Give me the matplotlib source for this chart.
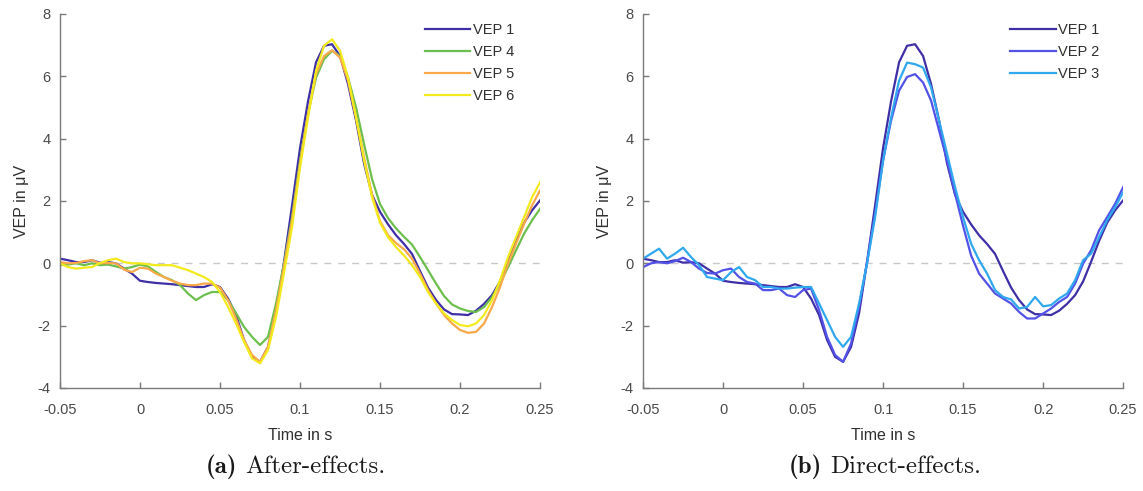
import matplotlib
matplotlib.use("Agg")
import matplotlib.pyplot as plt

plt.rcParams['font.family'] = ['Liberation Sans', 'DejaVu Sans']

# sample times in milliseconds (5 ms grid)
times_ms = [-50, -45, -40, -35, -30, -25, -20, -15, -10, -5,
            0, 5, 10, 15, 20, 25, 30, 35, 40, 45,
            50, 55, 60, 65, 70, 75, 80, 85, 90, 95,
            100, 105, 110, 115, 120, 125, 130, 135, 140, 145,
            150, 155, 160, 165, 170, 175, 180, 185, 190, 195,
            200, 205, 210, 215, 220, 225, 230, 235, 240, 245, 250]

vep1 = [0.15, 0.10, 0.04, 0.04, 0.10, 0.02, 0.04, 0.00, -0.17, -0.33,
        -0.56, -0.60, -0.63, -0.65, -0.67, -0.70, -0.73, -0.76, -0.76, -0.67,
        -0.76, -1.13, -1.66, -2.46, -3.00, -3.16, -2.68, -1.60, 0.05, 1.85,
        3.70, 5.20, 6.45, 6.98, 7.03, 6.65, 5.75, 4.58, 3.20, 2.20,
        1.65, 1.25, 0.90, 0.62, 0.30, -0.25, -0.78, -1.18, -1.48, -1.63,
        -1.64, -1.66, -1.52, -1.30, -1.02, -0.58, 0.05, 0.72, 1.30, 1.70, 2.02]

vep4 = [-0.06, -0.04, 0.00, -0.06, 0.00, -0.06, -0.04, -0.10, -0.17, -0.12,
        -0.04, -0.10, -0.28, -0.44, -0.54, -0.70, -0.97, -1.18, -1.02, -0.92,
        -0.92, -1.18, -1.60, -2.04, -2.36, -2.62, -2.36, -1.29, 0.00, 1.48,
        3.30, 4.80, 5.96, 6.55, 6.82, 6.65, 5.96, 5.00, 3.83, 2.70,
        1.90, 1.45, 1.12, 0.85, 0.60, 0.20, -0.22, -0.65, -1.05, -1.32,
        -1.45, -1.53, -1.56, -1.40, -1.08, -0.65, -0.12, 0.42, 0.95, 1.38, 1.75]

vep5 = [0.04, 0.00, 0.01, 0.07, 0.10, 0.00, 0.01, 0.00, -0.20, -0.28,
        -0.14, -0.17, -0.33, -0.44, -0.56, -0.65, -0.70, -0.70, -0.65, -0.65,
        -0.78, -1.18, -1.77, -2.46, -2.94, -3.16, -2.68, -1.50, -0.10, 1.38,
        3.19, 4.79, 6.07, 6.65, 6.84, 6.60, 5.86, 4.68, 3.40, 2.20,
        1.35, 0.90, 0.65, 0.45, 0.15, -0.33, -0.86, -1.29, -1.66, -1.93,
        -2.14, -2.23, -2.20, -1.93, -1.40, -0.76, -0.01, 0.63, 1.27, 1.86, 2.34]

vep6 = [0.00, -0.12, -0.17, -0.14, -0.12, 0.01, 0.10, 0.15, 0.04, 0.00,
        0.00, -0.03, -0.06, -0.06, -0.06, -0.14, -0.22, -0.33, -0.44, -0.60,
        -0.92, -1.40, -1.93, -2.52, -3.05, -3.21, -2.78, -1.72, -0.30, 1.16,
        3.08, 4.68, 6.18, 6.98, 7.19, 6.82, 5.96, 4.68, 3.30, 2.12,
        1.30, 0.84, 0.52, 0.25, -0.06, -0.44, -0.92, -1.29, -1.61, -1.82,
        -1.98, -2.02, -1.93, -1.66, -1.18, -0.54, 0.20, 0.84, 1.48, 2.12, 2.60]

vep2 = [-0.12, 0.00, 0.04, 0.00, 0.07, 0.18, 0.04, -0.17, -0.31, -0.33,
        -0.22, -0.17, -0.44, -0.60, -0.65, -0.86, -0.86, -0.81, -1.02, -1.08,
        -0.86, -0.81, -1.50, -2.36, -2.94, -3.16, -2.57, -1.40, 0.05, 1.60,
        3.30, 4.58, 5.54, 5.98, 6.07, 5.80, 5.22, 4.26, 3.30, 2.23,
        1.20, 0.25, -0.33, -0.65, -0.97, -1.13, -1.29, -1.56, -1.77, -1.77,
        -1.61, -1.45, -1.24, -1.08, -0.65, -0.01, 0.42, 1.06, 1.48, 1.91, 2.44]

vep3 = [0.15, 0.31, 0.47, 0.15, 0.31, 0.50, 0.20, -0.06, -0.44, -0.49,
        -0.54, -0.28, -0.12, -0.44, -0.54, -0.76, -0.76, -0.81, -0.81, -0.78,
        -0.76, -0.76, -1.29, -1.82, -2.36, -2.68, -2.36, -1.29, 0.00, 1.48,
        3.30, 4.68, 5.86, 6.44, 6.39, 6.28, 5.64, 4.58, 3.51, 2.44,
        1.48, 0.63, 0.10, -0.33, -0.86, -1.08, -1.16, -1.45, -1.40, -1.08,
        -1.38, -1.34, -1.13, -0.97, -0.54, 0.10, 0.31, 0.84, 1.38, 1.80, 2.28]

x_ticks = [-0.05, 0, 0.05, 0.1, 0.15, 0.2, 0.25]
x_tick_labels = ['-0.05', '0', '0.05', '0.1', '0.15', '0.2', '0.25']
y_ticks = [-4, -2, 0, 2, 4, 6, 8]
y_tick_labels = ['-4', '-2', '0', '2', '4', '6', '8']

after_series = [("VEP 1", vep1, '#3f2fa6'),
                ("VEP 4", vep4, '#6cbf4c'),
                ("VEP 5", vep5, '#f9a94a'),
                ("VEP 6", vep6, '#f2ea1c')]
direct_series = [("VEP 1", vep1, '#3f2fa6'),
                 ("VEP 2", vep2, '#5252e8'),
                 ("VEP 3", vep3, '#2fa8ee')]

time_s = [t / 1000.0 for t in times_ms]

fig = plt.figure(figsize=(11.43, 4.91), dpi=100)
ax_a = fig.add_axes([0.0525, 0.2098, 0.42, 0.7617])
ax_b = fig.add_axes([0.5626, 0.2098, 0.42, 0.7617])

text_col = '#4a4a4a'
spine_col = '#7a7a7a'


def style_axes(ax, series, legend_x):
    ax.axhline(0, color='#c8c8c8', lw=1.0, ls=(0, (5, 5)), zorder=1)
    for name, vals, col in series:
        ax.plot(time_s, vals, color=col, lw=1.6, label=name, zorder=2,
                solid_joinstyle='round')
    ax.set_xlim(-0.05, 0.25)
    ax.set_ylim(-4, 8)
    ax.set_xticks(x_ticks)
    ax.set_xticklabels(x_tick_labels)
    ax.set_yticks(y_ticks)
    ax.set_yticklabels(y_tick_labels)
    for side in ('top', 'right'):
        ax.spines[side].set_visible(False)
    for side in ('left', 'bottom'):
        ax.spines[side].set_color(spine_col)
        ax.spines[side].set_linewidth(1.0)
    ax.tick_params(direction='in', length=4, width=1.0, colors=spine_col,
                   labelcolor=text_col, labelsize=10.5)
    ax.tick_params(axis='x', pad=11)
    ax.tick_params(axis='y', pad=7)
    ax.set_xlabel('Time in s', fontsize=11.5, color='#303030', labelpad=8)
    ax.set_ylabel('VEP in \u03bcV', fontsize=11.5, color='#303030', labelpad=6)
    leg = ax.legend(loc='upper left', bbox_to_anchor=(legend_x, 0.975),
                    frameon=False, fontsize=10.5, handlelength=3.1,
                    handletextpad=0.2, labelspacing=0.55, borderpad=0,
                    borderaxespad=0)
    for txt in leg.get_texts():
        txt.set_color('#303030')


style_axes(ax_a, after_series, 0.76)
style_axes(ax_b, direct_series, 0.765)

# sub-figure captions
cap_y = 0.05
fig.text(237 / 1143, cap_y, '(a)', family='cmb10', fontsize=18,
         ha='right', va='center', color='#1a1a1a')
fig.text(245 / 1143, cap_y, 'After-effects.', family='cmr10', fontsize=18,
         ha='left', va='center', color='#1a1a1a')
fig.text(822 / 1143, cap_y, '(b)', family='cmb10', fontsize=18,
         ha='right', va='center', color='#1a1a1a')
fig.text(830 / 1143, cap_y, 'Direct-effects.', family='cmr10', fontsize=18,
         ha='left', va='center', color='#1a1a1a')

fig.savefig('out.png', dpi=100)
